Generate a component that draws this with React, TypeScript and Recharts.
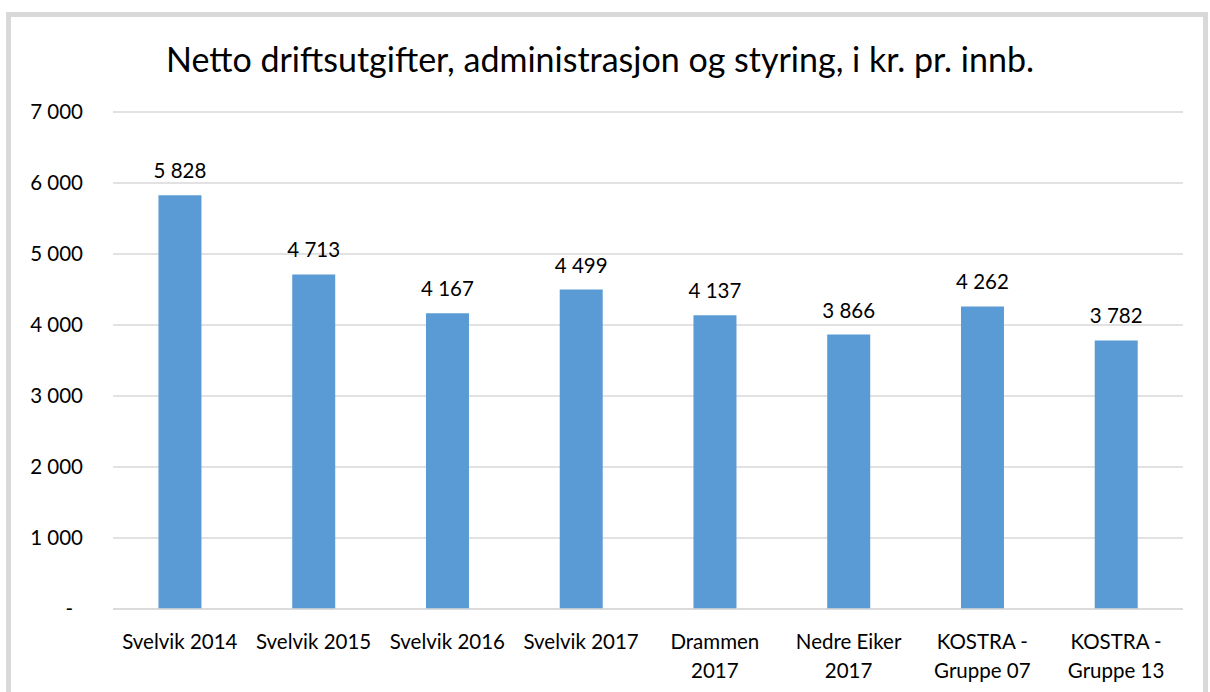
import React from 'react';
import { Bar, BarChart, CartesianGrid, LabelList, XAxis, YAxis } from 'recharts';

const CATEGORIES = [
  'Svelvik 2014',
  'Svelvik 2015',
  'Svelvik 2016',
  'Svelvik 2017',
  'Drammen\n2017',
  'Nedre Eiker\n2017',
  'KOSTRA -\nGruppe 07',
  'KOSTRA -\nGruppe 13',
];

const VALUES = [5828, 4713, 4167, 4499, 4137, 3866, 4262, 3782];

const Y_TICKS = [0, 1000, 2000, 3000, 4000, 5000, 6000, 7000];

const TITLE = 'Netto driftsutgifter, administrasjon og styring, i kr. pr. innb.';

const FONT = 'Lato, "Open Sans", sans-serif';

const fmt = (v: number) =>
  v === 0 ? '-' : String(v).replace(/\B(?=(\d{3})+(?!\d))/g, ' ');

const XTick = (props: any) => {
  const { x, y, payload } = props;
  const lines = String(payload.value).split('\n');
  return (
    <text x={x} y={y} textAnchor='middle' fontSize={20.5} fill='#000' fontFamily={FONT}>
      {lines.map((l, i) => (
        <tspan key={i} x={x} dy={i === 0 ? 32 : 29}>
          {l}
        </tspan>
      ))}
    </text>
  );
};

const YTick = (props: any) => {
  const { x, y, payload } = props;
  const v = payload.value as number;
  return (
    <text
      x={v === 0 ? x - 10 : x}
      y={y}
      dy={7}
      textAnchor='end'
      fontSize={20.5}
      fill='#000'
      fontFamily={FONT}
    >
      {fmt(v)}
    </text>
  );
};

export default function App() {
  const data = CATEGORIES.map((name, i) => ({ name, value: VALUES[i] }));
  return (
    <div
      style={{
        position: 'absolute',
        left: 0,
        top: 0,
        width: 1210,
        height: 692,
        background: '#fff',
        overflow: 'hidden',
        fontFamily: FONT,
      }}
    >
      <div
        style={{
          position: 'absolute',
          left: 6,
          top: 12,
          width: 1192,
          height: 720,
          border: '5px solid #d9d9d9',
        }}
      />
      <div
        style={{
          position: 'absolute',
          left: 0,
          top: 38,
          width: 1200,
          textAlign: 'center',
          fontSize: 34,
          color: '#000',
        }}
      >
        {TITLE}
      </div>
      <div style={{ position: 'absolute', left: 0, top: 0 }}>
        <BarChart
          width={1210}
          height={692}
          data={data}
          margin={{ top: 112, right: 27, left: 0, bottom: 0 }}
          barCategoryGap='34%'
        >
          <CartesianGrid vertical={false} stroke='#d9d9d9' strokeWidth={1.5} />
          <XAxis
            dataKey='name'
            axisLine={{ stroke: '#d9d9d9', strokeWidth: 1.5 }}
            tickLine={false}
            interval={0}
            tick={<XTick />}
            height={83}
          />
          <YAxis
            width={113}
            domain={[0, 7000]}
            ticks={Y_TICKS}
            axisLine={false}
            tickLine={false}
            tickMargin={24}
            tick={<YTick />}
          />
          <Bar dataKey='value' fill='#5b9bd5' isAnimationActive={false}>
            <LabelList
              dataKey='value'
              position='top'
              offset={17}
              formatter={(v: any) => fmt(Number(v))}
              style={{ fontSize: 20.5, fill: '#000', fontFamily: FONT }}
            />
          </Bar>
        </BarChart>
      </div>
    </div>
  );
}
